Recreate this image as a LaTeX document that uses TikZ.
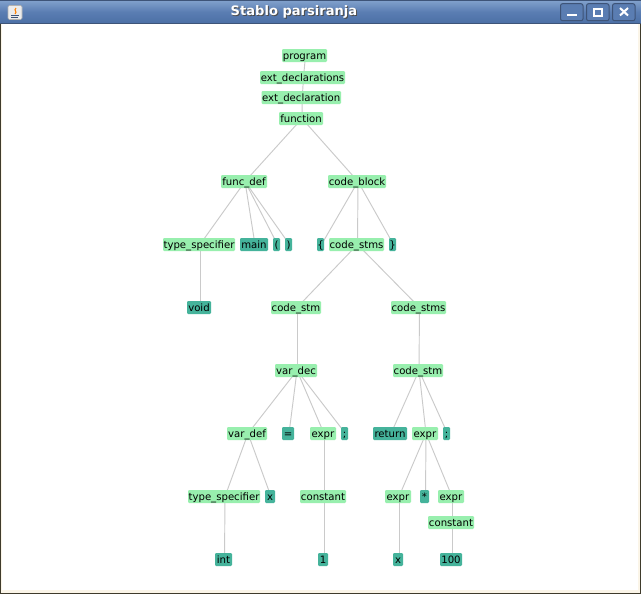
\documentclass[tikz,border=0pt]{standalone}
\usepackage{fontspec}
\setmainfont{DejaVu Sans}
\usetikzlibrary{backgrounds}
\definecolor{nongreen}{HTML}{98EFAE}
\definecolor{termteal}{HTML}{45B39B}
\definecolor{edgegray}{HTML}{CACACA}
\definecolor{bartop}{HTML}{7F9FCB}
\definecolor{barmid}{HTML}{5A7DB2}
\definecolor{barbot}{HTML}{4C70A6}
\definecolor{barline}{HTML}{3E5478}
\definecolor{frameout}{HTML}{3F3B2C}
\definecolor{framein}{HTML}{FBF5E8}
\tikzset{
  lab/.style={inner sep=0pt,outer sep=0pt,rounded corners=0.8pt,font=\fontsize{7.6pt}{9pt}\selectfont,text=black},
  nt/.style={lab,fill=nongreen},
  tm/.style={lab,fill=termteal},
  edgeline/.style={draw=edgegray,line width=0.7pt},
  winbtn/.style={draw=barline,fill=barmid,rounded corners=1.5pt,line width=0.75pt},
  btnmark/.style={draw=white,line width=1.5pt},
}
% name, x1, x2, ytop, text, style
\newcommand{\nd}[6]{%
  \node[#6,minimum width={(#3-#2)*0.75pt},minimum height=9.75pt,text height=6.6pt,text depth=0.6pt] (#1) at ({(#2+#3)/2},#4+6.5) {#5};}
\newcommand{\ed}[2]{\draw[edgeline] ([xshift=0.75pt]#1.center) -- ([xshift=0.75pt]#2.center);}
\begin{document}
\begin{tikzpicture}[x=0.75pt,y=-0.75pt]
\useasboundingbox (0,0) rectangle (641,594);
% nodes
\nd{program}{282}{327}{49}{program}{nt}
\nd{extdecls}{260}{345}{71}{ext\_declarations}{nt}
\nd{extdecl}{261.5}{341}{91}{ext\_declaration}{nt}
\nd{function}{279}{323}{112}{function}{nt}
\nd{funcdef}{221}{267}{175}{func\_def}{nt}
\nd{codeblock}{328}{386}{175}{code\_block}{nt}
\nd{typespecA}{163}{235}{238}{type\_specifier}{nt}
\nd{main}{240}{268}{238}{main}{tm}
\nd{lpar}{273}{280}{238}{(}{tm}
\nd{rpar}{285}{292}{238}{)}{tm}
\nd{lbrace}{317}{324}{238}{\{}{tm}
\nd{codestmsA}{329}{384}{238}{code\_stms}{nt}
\nd{rbrace}{389}{396}{238}{\}}{tm}
\nd{void}{187}{211}{301}{void}{tm}
\nd{codestmA}{271}{321}{301}{code\_stm}{nt}
\nd{codestmsB}{391}{446}{301}{code\_stms}{nt}
\nd{vardec}{275}{317}{364}{var\_dec}{nt}
\nd{codestmB}{393}{443}{364}{code\_stm}{nt}
\nd{vardef}{227}{267}{427}{var\_def}{nt}
\nd{eq}{282}{294}{427}{=}{tm}
\nd{exprA}{310}{336}{427}{expr}{nt}
\nd{semiA}{341}{348}{427}{;}{tm}
\nd{return}{373}{407}{427}{return}{tm}
\nd{exprB}{412}{438}{427}{expr}{nt}
\nd{semiB}{443}{450}{427}{;}{tm}
\nd{typespecB}{188}{260}{490}{type\_specifier}{nt}
\nd{xA}{265}{275}{490}{x}{tm}
\nd{constA}{300}{346}{490}{constant}{nt}
\nd{exprC}{385}{411}{490}{expr}{nt}
\nd{star}{420}{429}{490}{*}{tm}
\nd{exprD}{438}{464}{490}{expr}{nt}
\nd{constB}{428}{474}{516}{constant}{nt}
\nd{int}{215}{232}{553}{int}{tm}
\nd{one}{318}{328}{553}{1}{tm}
\nd{xB}{393}{403}{553}{x}{tm}
\nd{hundred}{440}{462}{553}{100}{tm}
% window and edges, behind the nodes
\begin{scope}[on background layer]
\fill[frameout] (0,0) rectangle (641,594);
\fill[framein] (1,20) rectangle (640,593);
\fill[white] (2,20) rectangle (638,590);
\shade[top color=bartop,bottom color=barmid] (0,1) rectangle (641,12);
\shade[top color=barmid,bottom color=barbot] (0,12) rectangle (641,23);
\draw[barline,line width=0.75pt] (0,23.5) -- (641,23.5);
\draw[barline,line width=0.75pt] (0,0.5) -- (641,0.5);
\ed{program}{extdecls}
\ed{extdecls}{extdecl}
\ed{extdecl}{function}
\ed{function}{funcdef}
\ed{function}{codeblock}
\ed{funcdef}{typespecA}
\ed{funcdef}{main}
\ed{funcdef}{lpar}
\ed{funcdef}{rpar}
\ed{codeblock}{lbrace}
\ed{codeblock}{codestmsA}
\ed{codeblock}{rbrace}
\ed{typespecA}{void}
\ed{codestmsA}{codestmA}
\ed{codestmsA}{codestmsB}
\ed{codestmA}{vardec}
\ed{codestmsB}{codestmB}
\ed{vardec}{vardef}
\ed{vardec}{eq}
\ed{vardec}{exprA}
\ed{vardec}{semiA}
\ed{codestmB}{return}
\ed{codestmB}{exprB}
\ed{codestmB}{semiB}
\ed{vardef}{typespecB}
\ed{vardef}{xA}
\ed{exprA}{constA}
\ed{exprB}{exprC}
\ed{exprB}{star}
\ed{exprB}{exprD}
\ed{typespecB}{int}
\ed{constA}{one}
\ed{exprC}{xB}
\ed{exprD}{constB}
\ed{constB}{hundred}
\end{scope}
% java icon
\node[inner sep=0pt,minimum width=10.5pt,minimum height=10.5pt,rounded corners=1pt,fill=gray!15,draw=gray!60] (icon) at (15,12.5) {};
\draw[orange,line width=0.8pt] (16,8) .. controls (13,11) and (18,11) .. (15,14);
\draw[barline,line width=0.7pt] (11,15) -- (19,15) (11,17) -- (18,17);
% title
\node[font=\bfseries\fontsize{9.8pt}{11pt}\selectfont,text=black!70,inner sep=0pt] (titleshadow) at (295,12.7) {Stablo parsiranja};
\node[font=\bfseries\fontsize{9.8pt}{11pt}\selectfont,text=white,inner sep=0pt] (title) at (294,11.7) {Stablo parsiranja};
% buttons
\draw[winbtn] (560.5,3.7) rectangle (583,20.7);
\draw[winbtn] (586.5,3.7) rectangle (609,20.7);
\draw[winbtn] (612.5,3.7) rectangle (635,20.7);
\draw[btnmark] (567,15) -- (577,15);
\draw[btnmark,line width=1pt] (594,9) rectangle (602,16);
\draw[btnmark] (620,8) -- (628,15.5) (628,8) -- (620,15.5);
\end{tikzpicture}
\end{document}
